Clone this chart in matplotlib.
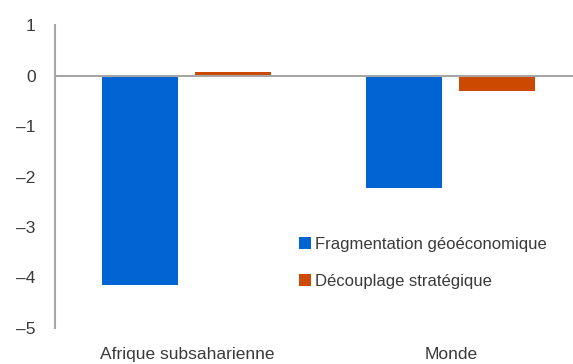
import numpy as np
import matplotlib.pyplot as plt

plt.rcParams['font.family'] = ['Liberation Sans', 'DejaVu Sans']

categories = ['Afrique subsaharienne', 'Monde']
fragmentation = [-4.15, -2.23]
decouplage = [0.08, -0.31]
series_names = ['Fragmentation géoéconomique', 'Découplage stratégique']
yticks = [1, 0, -1, -2, -3, -4, -5]

blue = '#0064D2'
orange = '#CC4A00'
grey = '#A6A6A6'
text_col = '#3A3A3A'

fig = plt.figure(figsize=(5.73, 3.64), dpi=100)
ax = fig.add_axes([0.096, 0.099, 0.921, 0.832])

x = np.arange(len(categories))
w = 0.288
ax.bar(x - 0.178, fragmentation, w, color=blue, label=series_names[0], zorder=2)
ax.bar(x + 0.174, decouplage, w, color=orange, label=series_names[1], zorder=2)

ax.axhline(0, color=grey, linewidth=1.5, zorder=3)
ax.set_xlim(-0.5, 1.5)
ax.set_ylim(-5, 1)
ax.set_yticks(yticks)
ax.set_yticklabels([str(t).replace('-', '\u2013') for t in yticks])
ax.set_xticks(x)
ax.set_xticklabels(categories)
ax.tick_params(axis='both', length=0, labelsize=12.5, colors=text_col)
ax.tick_params(axis='y', pad=14)
ax.tick_params(axis='x', pad=14)

for s in ['top', 'right', 'bottom']:
    ax.spines[s].set_visible(False)
ax.spines['left'].set_color(grey)
ax.spines['left'].set_linewidth(1.5)

ax.legend(loc='upper left', bbox_to_anchor=(0.462, 0.302), frameon=False,
          fontsize=12, handlelength=0.75, handleheight=0.75, handletextpad=0.2,
          labelspacing=1.35, labelcolor=text_col, borderaxespad=0, borderpad=0)

fig.savefig('out.png', dpi=100)
